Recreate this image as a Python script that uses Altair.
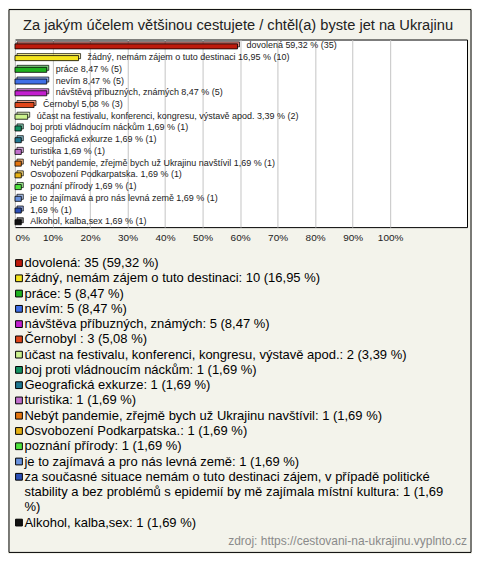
import textwrap
import altair as alt
import pandas as pd

# ---------------- data ----------------
title_text = "Za jakým účelem většinou cestujete / chtěl(a) byste jet na Ukrajinu"
source_text = "zdroj: https://cestovani-na-ukrajinu.vyplnto.cz"

categories = [
    "dovolená",
    "žádný, nemám zájem o tuto destinaci",
    "práce",
    "nevím",
    "návštěva příbuzných, známých",
    "Černobyl ",
    "účast na festivalu, konferenci, kongresu, výstavě apod.",
    "boj proti vládnoucím náckům",
    "Geografická exkurze",
    "turistika",
    "Nebýt pandemie, zřejmě bych už Ukrajinu navštívil",
    "Osvobození Podkarpatska.",
    "poznání přírody",
    "je to zajímavá a pro nás levná země",
    "za současné situace nemám o tuto destinaci zájem, v případě politické stability a bez problémů s epidemií by mě zajímala místní kultura",
    "Alkohol, kalba,sex",
]
counts = [35, 10, 5, 5, 5, 3, 2, 1, 1, 1, 1, 1, 1, 1, 1, 1]
percents = [59.32, 16.95, 8.47, 8.47, 8.47, 5.08, 3.39, 1.69,
            1.69, 1.69, 1.69, 1.69, 1.69, 1.69, 1.69, 1.69]
colors = [
    "#BE1A0C", "#F4E41C", "#1FB21F", "#3F6FE6", "#C21FCF", "#E0461A",
    "#CCF28E", "#149262", "#1F7790", "#C270CC", "#E4760E", "#E6B214",
    "#4FE43C", "#6A93DE", "#2A4FB6", "#111111",
]
x_ticks = [0, 10, 20, 30, 40, 50, 60, 70, 80, 90, 100]


def fmt(p):
    return f"{p:.2f}".replace(".", ",")


legend_labels = [
    textwrap.wrap(f"{c}: {n} ({fmt(p)} %)", 74)
    for c, n, p in zip(categories, counts, percents)
]
bar_labels = [
    f"{c if len(c) < 100 else ''} {fmt(p)} % ({n})"
    for c, n, p in zip(categories, counts, percents)
]

df = pd.DataFrame({
    "idx": list(range(len(categories))),
    "pct": percents,
    "key": categories,
    "barlabel": bar_labels,
})

# legend: one row per printed line, symbol only on the first line of an item
leg_rows = []
line_no = 0
for cat, lines in zip(categories, legend_labels):
    for j, txt in enumerate(lines):
        leg_rows.append({"line": line_no, "text": txt,
                         "key": cat, "first": j == 0})
        line_no += 1
leg_df = pd.DataFrame(leg_rows)
sym_df = leg_df[leg_df["first"]]
n_lines = line_no

one = pd.DataFrame({"k": [0]})

# ---------------- chart ----------------
W, H = 453, 188
FONT = "Liberation Sans"
LEG_TOP, LEG_STEP = 224, 15.3

y = alt.Y("idx:O", axis=None,
          scale=alt.Scale(paddingInner=0.57, paddingOuter=0.285))
x = alt.X(
    "pct:Q",
    scale=alt.Scale(domain=[0, 120.5], nice=False, zero=True),
    axis=alt.Axis(values=x_ticks, labelExpr="datum.value + '%'", grid=True,
                  gridColor="#C4C4C4", gridWidth=1, domain=False, ticks=False,
                  tickSize=0, labelPadding=5, labelFontSize=10, labelFont=FONT,
                  labelColor="#222222", title=None),
)
cscale = alt.Scale(domain=categories, range=colors)
color = alt.Color("key:N", scale=cscale, legend=None)

base = alt.Chart(df)

back = base.mark_bar(xOffset=2, x2Offset=2, yOffset=-1, y2Offset=-1,
                     stroke="black", strokeWidth=0.7, fillOpacity=0.55).encode(
    x=x, y=y, color=color)
front = base.mark_bar(yOffset=1, y2Offset=1, stroke="black",
                      strokeWidth=0.8).encode(x=x, y=y, color=color)
labels = base.mark_text(align="left", baseline="middle", dx=9, fontSize=9,
                        font=FONT, color="#222222").encode(
    x=x, y=y, text="barlabel:N")

leg_y = alt.Y("line:Q", axis=None,
              scale=alt.Scale(domain=[0, n_lines - 1], nice=False, zero=False,
                              range=[LEG_TOP, LEG_TOP + (n_lines - 1) * LEG_STEP]))
leg_sym = alt.Chart(sym_df).mark_square(
    size=46, opacity=1, filled=True, stroke="black", strokeWidth=1).encode(
    x=alt.value(4), y=leg_y, color=color)
leg_txt = alt.Chart(leg_df).mark_text(
    align="left", baseline="middle", fontSize=13, font=FONT,
    color="#000000").encode(x=alt.value(9.5), y=leg_y, text="text:N")

frame = alt.Chart(one).mark_rect(fillOpacity=0, stroke="black",
                                 strokeWidth=1).encode(
    x=alt.value(-6), x2=alt.value(W + 4), y=alt.value(-30), y2=alt.value(H + 326))
title = alt.Chart(one).mark_text(align="center", baseline="middle", fontSize=14.7,
                                 font=FONT, color="#222222").encode(
    x=alt.value(W / 2 - 3), y=alt.value(-14), text=alt.value(title_text))
source = alt.Chart(one).mark_text(align="right", baseline="middle", fontSize=12,
                                  font=FONT, color="#8A8A8A").encode(
    x=alt.value(W), y=alt.value(503), text=alt.value(source_text))

chart = alt.layer(frame, back, front, labels, leg_sym, leg_txt, title,
                  source).resolve_scale(y="independent").properties(
    width=W, height=H, padding=0,
).configure(background="#F3F3EB").configure_view(
    stroke="black", strokeWidth=1, fill="white")

chart.save("out.html", embed_options={"renderer": "svg", "actions": False})
